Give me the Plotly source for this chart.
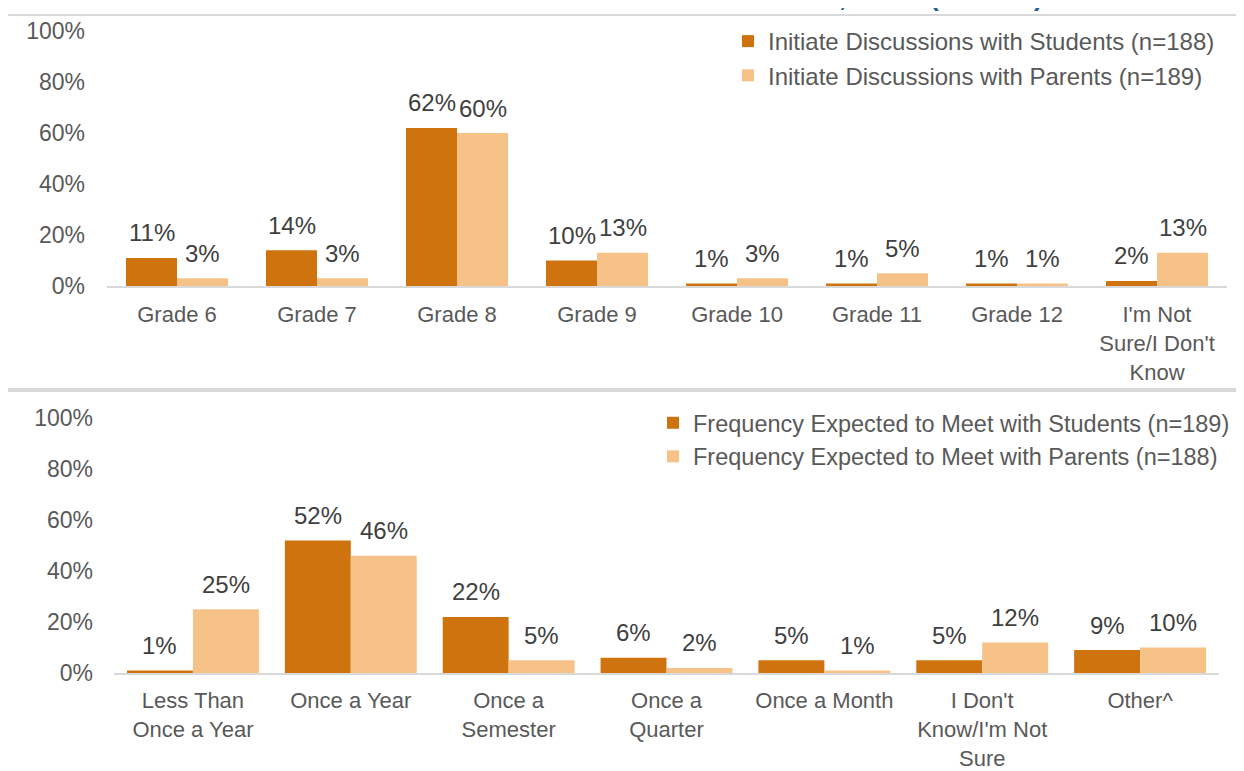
import plotly.graph_objects as go

W, H = 1244, 771
OFF = 8  # page body margin in the screenshot

# ---- data ----
grades = ["Grade 6", "Grade 7", "Grade 8", "Grade 9", "Grade 10", "Grade 11",
          "Grade 12", "I'm Not<br>Sure/I Don't<br>Know"]
disc_students = [11, 14, 62, 10, 1, 1, 1, 2]
disc_parents = [3, 3, 60, 13, 3, 5, 1, 13]

freq_cats = ["Less Than<br>Once a Year", "Once a Year", "Once a<br>Semester", "Once a<br>Quarter",
             "Once a Month", "I Don't<br>Know/I'm Not<br>Sure", "Other^"]
meet_students = [1, 52, 22, 6, 5, 5, 9]
meet_parents = [25, 46, 5, 2, 1, 12, 10]

name_top = ["Initiate Discussions with Students (n=188)", "Initiate Discussions with Parents (n=189)"]
name_bot = ["Frequency Expected to Meet with Students (n=189)", "Frequency Expected to Meet with Parents (n=188)"]
y_ticks = [0, 20, 40, 60, 80, 100]
y_ticktext = ["0%", "20%", "40%", "60%", "80%", "100%"]

DARK = "#CF730F"
LIGHT = "#F7C288"
TICK = "#595959"
LBL = "#404040"
FONT = "Liberation Sans, Arial, sans-serif"


def X(px):
    return (px - OFF) / W


def Y(py):
    return 1 - (py - OFF) / H


fig = go.Figure()
wt = 51 / 140
wb = 66 / 158
annotations = []

panels = [
    (grades, [(disc_students, name_top[0], DARK, -wt, -25.5), (disc_parents, name_top[1], LIGHT, 0, 25.5)],
     wt, "legend", "x", "y"),
    (freq_cats, [(meet_students, name_bot[0], DARK, -wb, -33), (meet_parents, name_bot[1], LIGHT, 0, 33)],
     wb, "legend2", "x2", "y2"),
]

for cats, series, w, leg, xa, ya in panels:
    for vals, nm, col, off, xs in series:
        fig.add_trace(go.Bar(x=cats, y=vals, name=nm, marker_color=col, marker_line_width=0,
                             width=w, offset=off, legend=leg, legendgroup=nm,
                             xaxis=xa, yaxis=ya))
        for c, v in zip(cats, vals):
            annotations.append(dict(x=c, y=v, xref=xa, yref=ya, text=f"{v}%", showarrow=False,
                                    xshift=xs, yshift=25, xanchor="center", yanchor="middle",
                                    font=dict(size=24, color=LBL, family=FONT)))

xcommon = dict(showline=True, linecolor="#D9D9D9", linewidth=2, ticks="", showgrid=False,
               zeroline=False, automargin=False,
               tickfont=dict(size=22, color=TICK, family=FONT), fixedrange=True)
ycommon = dict(range=[0, 100], tickmode="array", tickvals=y_ticks, ticktext=y_ticktext,
               showgrid=False, zeroline=False, automargin=False,
               showline=False, ticks="", tickfont=dict(size=23, color=TICK, family=FONT))

annotations.append(
    dict(text="<b>Career Goals Sessions with Students and Parents, Idaho (2019-20)</b>",
         xref="paper", yref="paper", x=X(632), y=Y(14), xanchor="center", yanchor="bottom",
         showarrow=False, font=dict(size=26, color="#1F5C99", family=FONT)))

fig.update_layout(
    width=W, height=H, autosize=False,
    margin=dict(l=0, r=0, t=0, b=0, pad=0),
    paper_bgcolor="white", plot_bgcolor="rgba(0,0,0,0)",
    barmode="overlay", showlegend=True,
    font=dict(family=FONT, color=TICK),
    xaxis=dict(domain=[X(107), X(1227)], range=[-0.5, 7.5], anchor="y", ticklabelstandoff=8, **xcommon),
    yaxis=dict(domain=[Y(286), Y(31)], anchor="x", ticklabelstandoff=21, **ycommon),
    xaxis2=dict(domain=[X(114), X(1219)], range=[-0.5, 6.5], anchor="y2", ticklabelstandoff=7, **xcommon),
    yaxis2=dict(domain=[Y(673), Y(418)], anchor="x2", ticklabelstandoff=20, **ycommon),
    legend=dict(x=X(728), y=Y(19), xanchor="left", yanchor="top", bgcolor="rgba(0,0,0,0)",
                font=dict(size=24, color=TICK, family=FONT), tracegroupgap=12, traceorder="normal"),
    legend2=dict(x=X(653), y=Y(401), xanchor="left", yanchor="top", bgcolor="rgba(0,0,0,0)",
                 font=dict(size=23.5, color=TICK, family=FONT), tracegroupgap=12, traceorder="normal"),
    shapes=[
        dict(type="rect", xref="paper", yref="paper", x0=X(7), x1=X(1270), y0=Y(389), y1=Y(15),
             line=dict(color="#D9D9D9", width=2), layer="below"),
        dict(type="rect", xref="paper", yref="paper", x0=X(7), x1=X(1270), y0=Y(800), y1=Y(391),
             line=dict(color="#D9D9D9", width=2), layer="below"),
    ],
    annotations=annotations,
)

fig.write_html("out.html")
